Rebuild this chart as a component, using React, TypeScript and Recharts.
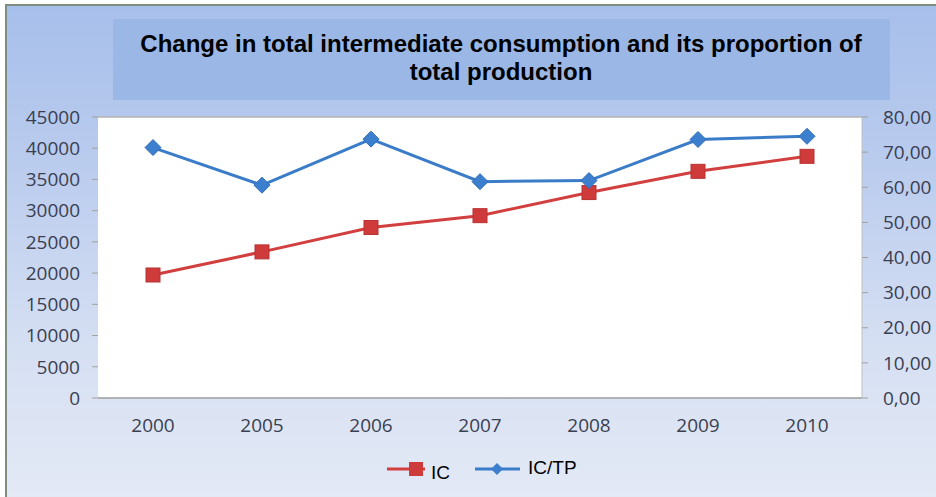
import React from 'react';
import { LineChart, Line, XAxis, YAxis, CartesianGrid, Legend } from 'recharts';

const years = ['2000', '2005', '2006', '2007', '2008', '2009', '2010'];
const icValues = [19700, 23400, 27300, 29200, 32900, 36300, 38700];
const ictpValues = [71.3, 60.6, 73.7, 61.6, 61.9, 73.6, 74.5];
const leftTicks = [0, 5000, 10000, 15000, 20000, 25000, 30000, 35000, 40000, 45000];
const rightTicks = [0, 10, 20, 30, 40, 50, 60, 70, 80];
const titleLines = ['Change in total intermediate consumption and its proportion of', 'total production'];

const data = years.map((y, i) => ({ year: y, IC: icValues[i], ICTP: ictpValues[i] }));

const RED = '#d23f3f';
const BLUE = '#3b7cc9';
const TICK_FONT = '"Open Sans", Lato, sans-serif';
const TICK_COLOR = '#3a3f52';

const SquareDot = (props: any) => {
  const { cx, cy } = props;
  if (cx == null || cy == null) return null;
  return <rect x={cx - 7} y={cy - 7} width={14} height={14} fill="#cf3b3b" stroke="#b83232" strokeWidth={1} />;
};

const DiamondDot = (props: any) => {
  const { cx, cy } = props;
  if (cx == null || cy == null) return null;
  const r = 8;
  return (
    <polygon
      points={`${cx},${cy - r} ${cx + r},${cy} ${cx},${cy + r} ${cx - r},${cy}`}
      fill="#3c7fce"
      stroke="#2f6db5"
      strokeWidth={1}
    />
  );
};

const RightTick = (props: any) => {
  const { x, y, payload } = props;
  return (
    <text x={x + 13} y={y} dy="0.355em" textAnchor="start" fontFamily={TICK_FONT} fontSize={19} fill={TICK_COLOR}>
      {Number(payload.value).toFixed(2).replace('.', ',')}
    </text>
  );
};

const LegendContent = () => (
  <svg width={936} height={69} style={{ display: 'block' }}>
    <line x1={387} x2={425} y1={41} y2={41} stroke={RED} strokeWidth={3} />
    <rect x={409} y={34} width={14} height={14} fill="#cf3b3b" />
    <text x={431} y={51} fontFamily='"Liberation Sans", Arial, sans-serif' fontSize={19} fill="#000">IC</text>
    <line x1={475} x2={520} y1={41} y2={41} stroke={BLUE} strokeWidth={3} />
    <polygon points="497,35 503,41 497,47 491,41" fill="#3c7fce" />
    <text x={528} y={46} fontFamily='"Liberation Sans", Arial, sans-serif' fontSize={19} fill="#000">IC/TP</text>
  </svg>
);

export default function App() {
  return (
    <div style={{ position: 'absolute', left: 0, top: 0, width: 936, height: 497, background: '#ffffff', overflow: 'hidden' }}>
      <div
        style={{
          position: 'absolute',
          left: 5,
          top: 4,
          width: 931,
          height: 493,
          background: 'linear-gradient(180deg, #a7bfeb 0%, #bccdee 35%, #d6e0f3 70%, #e3e9f5 100%)',
          borderLeft: '2px solid #7f8d80',
          borderTop: '2px solid #7f8d80',
          boxSizing: 'border-box',
        }}
      />
      <div
        style={{
          position: 'absolute',
          left: 113,
          top: 19,
          width: 777,
          height: 81,
          background: '#9ab7e5',
        }}
      />
      <svg width={936} height={497} style={{ position: 'absolute', left: 0, top: 0 }}>
        {titleLines.map((t, i) => (
          <text
            key={i}
            x={501}
            y={52 + i * 28}
            textAnchor="middle"
            fontFamily='"Liberation Sans", Arial, sans-serif'
            fontWeight="bold"
            fontSize={24}
            fill="#000"
          >
            {t}
          </text>
        ))}
      </svg>
      <div style={{ position: 'absolute', left: 0, top: 0 }}>
        <LineChart width={936} height={497} data={data} margin={{ top: 117, right: 0, bottom: 0, left: 0 }}>
          <CartesianGrid horizontal vertical={false} stroke="#b3b3b3" strokeWidth={1.5} fill="#ffffff" />
          <XAxis
            dataKey="year"
            tickLine={false}
            axisLine={{ stroke: '#a0a0a0' }}
            tickMargin={15}
            height={30}
            padding={{ left: 55, right: 55 }}
            tick={{ fontFamily: TICK_FONT, fontSize: 19, fill: TICK_COLOR }}
          />
          <YAxis
            yAxisId="left"
            orientation="left"
            width={98}
            domain={[0, 45000]}
            ticks={leftTicks}
            interval={0}
            tickSize={6}
            tickMargin={12}
            axisLine={false}
            tickLine={{ stroke: '#a0a0a0' }}
            tick={{ fontFamily: TICK_FONT, fontSize: 19, fill: TICK_COLOR }}
          />
          <YAxis
            yAxisId="right"
            orientation="right"
            width={74}
            domain={[0, 80]}
            ticks={rightTicks}
            interval={0}
            tickSize={6}
            axisLine={{ stroke: '#c0c0c0' }}
            tickLine={{ stroke: '#a0a0a0' }}
            tick={<RightTick />}
          />
          <Legend verticalAlign="bottom" height={69} content={<LegendContent />} />
          <Line
            yAxisId="left"
            type="linear"
            dataKey="IC"
            stroke={RED}
            strokeWidth={3}
            dot={<SquareDot />}
            activeDot={false}
            isAnimationActive={false}
          />
          <Line
            yAxisId="right"
            type="linear"
            dataKey="ICTP"
            stroke={BLUE}
            strokeWidth={3}
            dot={<DiamondDot />}
            activeDot={false}
            isAnimationActive={false}
          />
        </LineChart>
      </div>
    </div>
  );
}
